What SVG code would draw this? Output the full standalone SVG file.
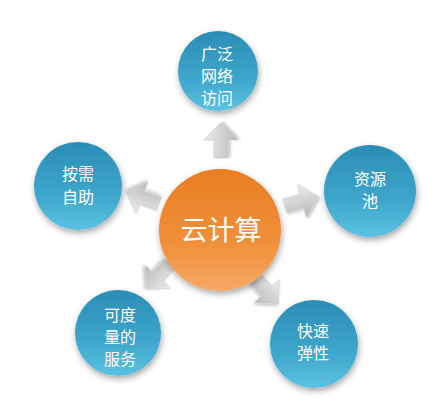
<svg xmlns="http://www.w3.org/2000/svg" width="437" height="401" viewBox="0 0 437 401">
<defs>
<linearGradient id="gBlue" x1="0" y1="0" x2="0" y2="1">
<stop offset="0" stop-color="#2b8db5"/>
<stop offset="0.6" stop-color="#3ea6cc"/>
<stop offset="1" stop-color="#5cc2e2"/>
</linearGradient>
<linearGradient id="gOrange" x1="0" y1="0" x2="0" y2="1">
<stop offset="0" stop-color="#e97e22"/>
<stop offset="0.6" stop-color="#f08f3a"/>
<stop offset="1" stop-color="#f6a865"/>
</linearGradient>
<linearGradient id="gArrow" x1="0" y1="0" x2="0" y2="1">
<stop offset="0" stop-color="#ececec"/>
<stop offset="1" stop-color="#b9b9b9"/>
</linearGradient>
<filter id="sh" x="-30%" y="-30%" width="160%" height="160%">
<feDropShadow dx="1" dy="3" stdDeviation="3" flood-color="#000" flood-opacity="0.35"/>
</filter>
<filter id="shA" x="-30%" y="-30%" width="160%" height="160%">
<feDropShadow dx="1" dy="2" stdDeviation="1.5" flood-color="#000" flood-opacity="0.25"/>
</filter>
<path id="arr" d="M-18,-7 L0,-7 L0,-17 L17,0 L0,17 L0,7 L-18,7 Z"/>
</defs>
<style>
.blue{fill:url(#gBlue);filter:url(#sh)}
.orange{fill:url(#gOrange);filter:url(#sh)}
.arrow{fill:url(#gArrow);stroke:#c8c8c8;stroke-width:0.6;filter:url(#shA)}
.t{font-family:"Noto Sans CJK SC","Noto Sans",sans-serif;fill:#ffffff;text-anchor:middle;font-size:16px}
.tc{font-family:"Noto Sans CJK SC","Noto Sans",sans-serif;fill:#ffffff;text-anchor:middle;font-size:27px}
</style>
<rect width="437" height="401" fill="#ffffff"/>
<g id="connectors">
<use href="#arr" class="arrow" transform="translate(221,140) rotate(-90)"/>
<use href="#arr" class="arrow" transform="translate(142,198) rotate(200)"/>
<use href="#arr" class="arrow" transform="translate(302,201) rotate(-15)"/>
<use href="#arr" class="arrow" transform="translate(158,277) rotate(132)"/>
<use href="#arr" class="arrow" transform="translate(267,291) rotate(48)"/>
</g>
<g id="node-top">
<circle class="blue" cx="218" cy="71" r="40"/>
<text class="t" x="217" y="60">广泛</text>
<text class="t" x="217" y="82">网络</text>
<text class="t" x="217" y="104">访问</text>
</g>
<g id="node-left">
<circle class="blue" cx="78" cy="186" r="44"/>
<text class="t" x="78" y="180">按需</text>
<text class="t" x="78" y="203">自助</text>
</g>
<g id="node-right">
<circle class="blue" cx="370" cy="191" r="46"/>
<text class="t" x="370" y="185">资源</text>
<text class="t" x="370" y="207">池</text>
</g>
<g id="node-bottom-left">
<circle class="blue" cx="118" cy="333" r="43"/>
<text class="t" x="120" y="321">可度</text>
<text class="t" x="120" y="343">量的</text>
<text class="t" x="120" y="365">服务</text>
</g>
<g id="node-bottom-right">
<circle class="blue" cx="314" cy="344" r="44"/>
<text class="t" x="313" y="337">快速</text>
<text class="t" x="313" y="359">弹性</text>
</g>
<g id="node-center">
<circle class="orange" cx="220" cy="230" r="61"/>
<text class="tc" x="221" y="240">云计算</text>
</g>
</svg>
